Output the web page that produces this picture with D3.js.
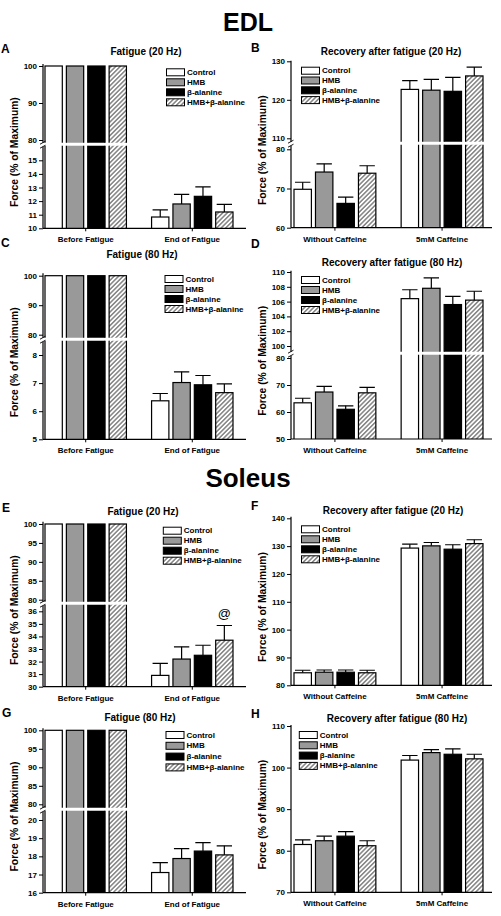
<!DOCTYPE html>
<html><head><meta charset="utf-8">
<script src="https://cdn.jsdelivr.net/npm/d3@7"></script>
<style>
body{margin:0;background:#fff}
svg{display:block}
text{font-family:"Liberation Sans",Arial,sans-serif;fill:#000}
</style>
</head><body>
<svg id="c" width="501" height="916"></svg>
<script>
// ---------------- DATA ----------------
const seriesNames = ["Control", "HMB", "β-alanine", "HMB+β-alanine"];
const fatigueGroups = ["Before Fatigue", "End of Fatigue"];
const recoveryGroups = ["Without Caffeine", "5mM Caffeine"];

// EDL
const meanA = [[100, 100, 100, 100], [10.83, 11.79, 12.35, 11.20]];
const semA  = [[0, 0, 0, 0], [0.52, 0.71, 0.69, 0.56]];
const meanB = [[69.8, 74.2, 66.2, 73.9], [122.7, 122.5, 122.2, 126.2]];
const semB  = [[1.8, 2.1, 1.6, 1.9], [2.3, 2.8, 3.6, 2.3]];
const meanC = [[100, 100, 100, 100], [6.37, 7.02, 6.94, 6.66]];
const semC  = [[0, 0, 0, 0], [0.26, 0.38, 0.33, 0.31]];
const meanD = [[63.4, 67.4, 61.0, 67.1], [106.4, 107.8, 105.6, 106.2]];
const semD  = [[1.7, 2.1, 1.3, 2.0], [1.2, 1.4, 1.1, 1.2]];
// Soleus
const meanE = [[100, 100, 100, 100], [30.9, 32.2, 32.5, 33.7]];
const semE  = [[0, 0, 0, 0], [0.95, 0.97, 0.8, 1.17]];
const meanF = [[84.5, 84.7, 84.7, 84.5], [129.3, 130.1, 128.9, 130.9]];
const semF  = [[0.9, 0.8, 0.8, 0.9], [1.4, 1.2, 1.6, 1.4]];
const meanG = [[100, 100, 100, 100], [17.11, 17.88, 18.29, 18.08]];
const semG  = [[0, 0, 0, 0], [0.55, 0.55, 0.47, 0.50]];
const meanH = [[81.5, 82.4, 83.5, 81.2], [101.8, 103.6, 103.2, 102.1]];
const semH  = [[1.1, 1.1, 1.1, 1.2], [1.1, 0.7, 1.3, 1.1]];

// tick values (lower segment, upper segment)
const ticksA = [[10, 11, 12, 13, 14, 15], [80, 90, 100]];
const ticksB = [[60, 70, 80], [110, 120, 130]];
const ticksC = [[5, 6, 7, 8], [80, 90, 100]];
const ticksD = [[50, 60, 70, 80], [100, 102, 104, 106, 108, 110]];
const ticksE = [[30, 31, 32, 33, 34, 35, 36], [80, 85, 90, 95, 100]];
const ticksF = [[80, 90, 100, 110, 120, 130, 140]];
const ticksG = [[16, 17, 18, 19, 20], [80, 85, 90, 95, 100]];
const ticksH = [[70, 80, 90, 100, 110]];

const titles = ["Fatigue (20 Hz)", "Recovery after fatigue (20 Hz)", "Fatigue (80 Hz)", "Recovery after fatigue (80 Hz)"];
const yLabel = "Force (% of Maximum)";

// ---------------- LAYOUT ----------------
const L = {ax: 43, axEnd: 246, band: [45, 233]};
const R = {ax: 291, axEnd: 492, band: [294, 483]};

const panels = [
  {id: "A", side: L, groups: fatigueGroups, mean: meanA, sem: semA, ticks: ticksA, title: titles[0],
   segs: [{d: [10, 15], r: [228.3, 160.3], ext: [146.7, 228.3]}, {d: [80, 100], r: [140, 66], ext: [64, 142.7]}],
   letter: [1, 52.7], titlePos: [146, 54.5], leg: [166.5, 72.3, 10]},
  {id: "B", side: R, groups: recoveryGroups, mean: meanB, sem: semB, ticks: ticksB, title: titles[1],
   segs: [{d: [60, 80], r: [227.7, 149.3], ext: [145.7, 227.7]}, {d: [110, 130], r: [138.3, 61.3], ext: [60.7, 141.7]}],
   letter: [251, 51.7], titlePos: [391, 54.5], leg: [301.5, 70.7, 9.8]},
  {id: "C", side: L, groups: fatigueGroups, mean: meanC, sem: semC, ticks: ticksC, title: titles[2],
   segs: [{d: [5, 8], r: [439.3, 355], ext: [341.7, 439.3]}, {d: [80, 100], r: [334.7, 275.7], ext: [273.3, 337.7]}],
   letter: [1, 246.7], titlePos: [142, 257.5], leg: [165, 279, 10]},
  {id: "D", side: R, groups: recoveryGroups, mean: meanD, sem: semD, ticks: ticksD, title: titles[3],
   segs: [{d: [50, 80], r: [439, 358], ext: [355.7, 439]}, {d: [100, 110], r: [346, 272], ext: [270.7, 351.7]}],
   letter: [251, 248.3], titlePos: [392, 265.5], leg: [301.5, 280, 10]},
  {id: "E", side: L, groups: fatigueGroups, mean: meanE, sem: semE, ticks: ticksE, title: titles[0],
   segs: [{d: [30, 36], r: [686.7, 611.3], ext: [605.7, 686.7]}, {d: [80, 100], r: [599.7, 524], ext: [521.7, 601.7]}],
   letter: [2, 511.7], titlePos: [143, 514.5], leg: [163.3, 530.7, 10]},
  {id: "F", side: R, groups: recoveryGroups, mean: meanF, sem: semF, ticks: ticksF, title: titles[1],
   segs: [{d: [80, 140], r: [685.3, 518.3], ext: [516.7, 685.3]}],
   letter: [251, 510], titlePos: [393, 513.5], leg: [301.5, 529.3, 10]},
  {id: "G", side: L, groups: fatigueGroups, mean: meanG, sem: semG, ticks: ticksG, title: titles[2],
   segs: [{d: [16, 20], r: [892.7, 820], ext: [811.7, 892.7]}, {d: [80, 100], r: [804.3, 730.3], ext: [728.3, 807.7]}],
   letter: [2, 716.7], titlePos: [140, 721], leg: [166, 735, 10.8]},
  {id: "H", side: R, groups: recoveryGroups, mean: meanH, sem: semH, ticks: ticksH, title: titles[3],
   segs: [{d: [70, 110], r: [892.3, 726], ext: [725, 892.3]}],
   letter: [251, 717.7], titlePos: [397, 722], leg: [299.3, 735, 10.3]}
];

const fills = {"Control": "#ffffff", "HMB": "#999999", "β-alanine": "#000000", "HMB+β-alanine": "url(#hatch)"};

// ---------------- DRAW ----------------
const svg = d3.select("#c");
const defs = svg.append("defs");
const pat = defs.append("pattern").attr("id", "hatch").attr("patternUnits", "userSpaceOnUse")
  .attr("width", 3.2).attr("height", 3.2).attr("patternTransform", "rotate(45)");
pat.append("rect").attr("width", 3.2).attr("height", 3.2).attr("fill", "#fff");
pat.append("line").attr("x1", 0.8).attr("y1", 0).attr("x2", 0.8).attr("y2", 3.2)
  .attr("stroke", "#444").attr("stroke-width", 1);

svg.append("text").attr("x", 248).attr("y", 30.7).attr("text-anchor", "middle")
  .attr("font-size", 25).attr("font-weight", "bold").text("EDL");
svg.append("text").attr("x", 248).attr("y", 486.7).attr("text-anchor", "middle")
  .attr("font-size", 26).attr("font-weight", "bold").text("Soleus");

function drawPanel(p) {
  const side = p.side;
  const g = svg.append("g");
  const x0 = d3.scaleBand().domain(p.groups).range(side.band).paddingInner(0.236).paddingOuter(0);
  const x1 = d3.scaleBand().domain(seriesNames).range([0, x0.bandwidth()]).paddingInner(0.19);
  const bw = x1.bandwidth();
  const bottom = p.segs[0].ext[1];

  p.segs.forEach((s, i) => {
    const y = d3.scaleLinear().domain(s.d).range(s.r);
    const clipId = "clip" + p.id + i;
    defs.append("clipPath").attr("id", clipId).append("rect")
      .attr("x", side.ax + 0.5).attr("y", s.ext[0] - 1).attr("width", side.axEnd - side.ax)
      .attr("height", s.ext[1] - s.ext[0] + 1);
    const sg = g.append("g").attr("clip-path", `url(#${clipId})`);

    p.groups.forEach((grp, gi) => {
      seriesNames.forEach((sn, si) => {
        const v = p.mean[gi][si];
        const e = p.sem[gi][si];
        const yt = y(v);
        const cx = x0(grp) + x1(sn) + bw / 2;
        if (e > 0) {
          const ye = y(v + e);
          sg.append("line").attr("x1", cx).attr("x2", cx).attr("y1", yt).attr("y2", ye)
            .attr("stroke", "#000").attr("stroke-width", 1.2);
          sg.append("line").attr("x1", cx - bw / 2 + 1).attr("x2", cx + bw / 2 - 1).attr("y1", ye).attr("y2", ye)
            .attr("stroke", "#000").attr("stroke-width", 1.2);
        }
        if (yt >= s.ext[1]) return;
        const top = Math.max(yt, s.ext[0] - 6);
        sg.append("rect").attr("x", x0(grp) + x1(sn)).attr("y", top)
          .attr("width", bw).attr("height", s.ext[1] + 6 - top)
          .attr("fill", fills[sn]).attr("stroke", "#000").attr("stroke-width", 1.2);
      });
    });

    // y axis segment
    const ax = g.append("g").attr("transform", `translate(${side.ax},0)`)
      .call(d3.axisLeft(y).tickValues(p.ticks[i]).tickSize(4).tickPadding(2).tickFormat(d3.format("d")));
    ax.select(".domain").remove();
    ax.selectAll("line").attr("stroke", "#000").attr("stroke-width", 1);
    ax.selectAll("text").attr("font-size", 8).attr("font-weight", "bold")
      .attr("font-family", "'Liberation Sans', Arial, sans-serif");
    g.append("line").attr("x1", side.ax).attr("x2", side.ax).attr("y1", s.ext[0]).attr("y2", s.ext[1])
      .attr("stroke", "#000").attr("stroke-width", 1.2);
  });

  // break marks
  if (p.segs.length > 1) {
    [p.segs[1].ext[1], p.segs[0].ext[0]].forEach(yy => {
      g.append("line").attr("x1", side.ax - 3).attr("x2", side.ax + 2.5).attr("y1", yy + 1.5).attr("y2", yy - 1.5)
        .attr("stroke", "#000").attr("stroke-width", 0.9);
    });
  }

  // x axis
  g.append("line").attr("x1", side.ax).attr("x2", side.axEnd).attr("y1", bottom).attr("y2", bottom)
    .attr("stroke", "#000").attr("stroke-width", 1.2);
  p.groups.forEach(grp => {
    const cx = x0(grp) + x0.bandwidth() / 2;
    g.append("line").attr("x1", cx).attr("x2", cx).attr("y1", bottom).attr("y2", bottom + 3)
      .attr("stroke", "#000").attr("stroke-width", 1);
    g.append("text").attr("x", cx).attr("y", bottom + 14).attr("text-anchor", "middle")
      .attr("font-size", 8).attr("font-weight", "bold").text(grp);
  });

  // y label
  const top = p.segs[p.segs.length - 1].ext[0];
  const yc = (top + bottom) / 2 + 6;
  const lx = side.ax - 29;
  g.append("text").attr("transform", `translate(${lx},${yc}) rotate(-90)`)
    .attr("text-anchor", "middle").attr("dominant-baseline", "central")
    .attr("font-size", 10.3).attr("font-weight", "bold").text(yLabel);

  // title & letter
  g.append("text").attr("x", p.titlePos[0]).attr("y", p.titlePos[1]).attr("text-anchor", "middle")
    .attr("font-size", 10).attr("font-weight", "bold").text(p.title);
  g.append("text").attr("x", p.letter[0]).attr("y", p.letter[1])
    .attr("font-size", 12).attr("font-weight", "bold").text(p.id);

  // legend
  const lg = g.append("g");
  seriesNames.forEach((sn, i) => {
    const yy = p.leg[1] + i * p.leg[2];
    lg.append("rect").attr("x", p.leg[0]).attr("y", yy - 3.5).attr("width", 18).attr("height", 7)
      .attr("fill", fills[sn]).attr("stroke", "#000").attr("stroke-width", 1);
    lg.append("text").attr("x", p.leg[0] + 20.5).attr("y", yy).attr("dominant-baseline", "central")
      .attr("font-size", 8).attr("font-weight", "bold").text(sn);
  });
  return {x0, x1};
}

panels.forEach(p => {
  const sc = drawPanel(p);
  if (p.id === "E") {
    const seg = p.segs[0];
    const y = d3.scaleLinear().domain(seg.d).range(seg.r);
    const gi = 1, si = 3;
    const cx = sc.x0(p.groups[gi]) + sc.x1(seriesNames[si]) + sc.x1.bandwidth() / 2;
    svg.append("text").attr("x", cx).attr("y", y(p.mean[gi][si] + p.sem[gi][si]) - 8)
      .attr("text-anchor", "middle").attr("font-size", 13).text("@");
  }
});
</script>
</body></html>
